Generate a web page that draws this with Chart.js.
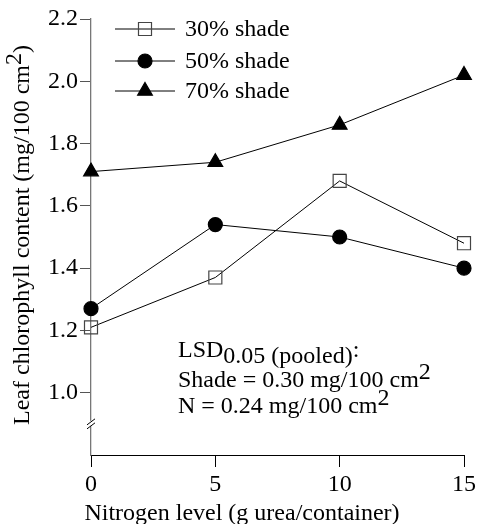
<!DOCTYPE html>
<html>
<head>
<meta charset="utf-8">
<script src="https://cdn.jsdelivr.net/npm/chart.js@4"></script>
<style>
  html, body { margin: 0; padding: 0; background: #fff; }
  #wrap { width: 479px; height: 524px; }
</style>
</head>
<body>
<div id="wrap"><canvas id="chlChart" width="479" height="524"></canvas></div>
<script>
// data
const nitrogen = [0, 5, 10, 15];
const shade30 = [1.21, 1.37, 1.68, 1.48];
const shade50 = [1.27, 1.54, 1.50, 1.40];
const shade70 = [1.71, 1.74, 1.86, 2.02];
const seriesNames = ['30% shade', '50% shade', '70% shade'];
const yTicks = [1.0, 1.2, 1.4, 1.6, 1.8, 2.0, 2.2];
const xTicks = [0, 5, 10, 15];

const FONT = "'Liberation Serif', 'Times New Roman', serif";

function toPoints(vals) {
    return nitrogen.map((n, i) => ({ x: n, y: vals[i] }));
}

const styles = [
    { pointStyle: 'rect', radius: 9.2, bg: 'rgba(0,0,0,0)', border: '#444' },
    { pointStyle: 'circle', radius: 7, bg: '#000', border: '#000' },
    { pointStyle: 'triangle', radius: 8.5, bg: '#000', border: '#000' }
];

const datasets = [shade30, shade50, shade70].map((vals, i) => ({
    label: seriesNames[i],
    data: toPoints(vals),
    borderColor: '#000',
    borderWidth: 1,
    pointStyle: styles[i].pointStyle,
    pointRadius: styles[i].radius,
    pointBackgroundColor: styles[i].bg,
    pointBorderColor: styles[i].border,
    pointBorderWidth: 1.2,
    clip: false,
    tension: 0
}));

// text with a raised or lowered part
function drawParts(ctx, parts, x, y) {
    let cx = x;
    parts.forEach(p => {
        ctx.fillText(p.t, cx, y + (p.dy || 0));
        cx += ctx.measureText(p.t).width;
    });
}

const extras = {
    id: 'extras',
    afterDraw(chart) {
        const ctx = chart.ctx;
        const xs = chart.scales.x, ys = chart.scales.y;
        ctx.save();

        // axis break on y
        const by = ys.getPixelForValue(0.9);
        const ax = ys.right;
        ctx.fillStyle = '#fff';
        ctx.fillRect(ax - 3, by - 3, 6, 5);
        ctx.strokeStyle = '#000';
        ctx.lineWidth = 1;
        ctx.beginPath();
        ctx.moveTo(ax - 4, by + 1); ctx.lineTo(ax + 4, by - 5);
        ctx.moveTo(ax - 4, by + 5); ctx.lineTo(ax + 4, by - 1);
        ctx.stroke();

        // legend
        ctx.font = '24px ' + FONT;
        ctx.textBaseline = 'middle';
        ctx.fillStyle = '#000';
        const rows = [29, 61, 91];
        chart.data.datasets.forEach((ds, i) => {
            const ly = rows[i];
            ctx.strokeStyle = '#000';
            ctx.lineWidth = 1;
            ctx.beginPath();
            ctx.moveTo(115, ly); ctx.lineTo(175, ly);
            ctx.stroke();
            ctx.fillStyle = styles[i].bg;
            ctx.strokeStyle = styles[i].border;
            ctx.lineWidth = 1.2;
            Chart.helpers.drawPoint(ctx, { pointStyle: styles[i].pointStyle, radius: styles[i].radius, borderWidth: 1.2 }, 145, ly);
            ctx.fillStyle = '#000';
            ctx.fillText(ds.label, 185, ly + 1);
        });

        // LSD note
        ctx.textBaseline = 'alphabetic';
        ctx.textAlign = 'left';
        drawParts(ctx, [{ t: 'LSD' }, { t: '0.05 (pooled)', dy: 6 }, { t: ':' }], 178, 357);
        drawParts(ctx, [{ t: 'Shade = 0.30 mg/100 cm' }, { t: '2', dy: -8 }], 178, 387);
        drawParts(ctx, [{ t: 'N = 0.24 mg/100 cm' }, { t: '2', dy: -8 }], 178, 413);

        // x title
        ctx.textAlign = 'center';
        ctx.textBaseline = 'middle';
        ctx.fillText('Nitrogen level (g urea/container)', 242, 514);

        // y title
        ctx.translate(23, (ys.top + ys.bottom) / 2 - 2);
        ctx.rotate(-Math.PI / 2);
        const yParts = [{ t: 'Leaf chlorophyll content (mg/100 cm' }, { t: '2', dy: -8 }, { t: ')' }];
        let w = 0;
        yParts.forEach(p => { w += ctx.measureText(p.t).width; });
        ctx.textAlign = 'left';
        drawParts(ctx, yParts, -w / 2, 0);

        ctx.restore();
    }
};

new Chart(document.getElementById('chlChart'), {
    type: 'line',
    data: { datasets: datasets },
    options: {
        responsive: false,
        animation: false,
        layout: { padding: { left: 0, right: 14, top: 19, bottom: 0 } },
        plugins: { legend: { display: false }, tooltip: { enabled: false } },
        scales: {
            x: {
                type: 'linear',
                min: 0,
                max: 15,
                afterBuildTicks: s => { s.ticks = xTicks.map(v => ({ value: v })); },
                afterFit: s => { s.height = 69; },
                grid: { drawOnChartArea: false, tickLength: 12, color: '#000' },
                border: { color: '#000', width: 1 },
                ticks: { color: '#000', padding: 3, maxRotation: 0, font: { family: FONT, size: 24 } }
            },
            y: {
                type: 'linear',
                min: 0.8,
                max: 2.2,
                afterBuildTicks: s => { s.ticks = yTicks.map(v => ({ value: v })); },
                afterFit: s => { s.width = 91; },
                grid: { drawOnChartArea: false, tickLength: 11, color: '#555' },
                border: { color: '#777', width: 1.3 },
                ticks: {
                    color: '#000', padding: 2, font: { family: FONT, size: 24 },
                    callback: v => Number(v).toFixed(1)
                }
            }
        }
    },
    plugins: [extras]
});
</script>
</body>
</html>
